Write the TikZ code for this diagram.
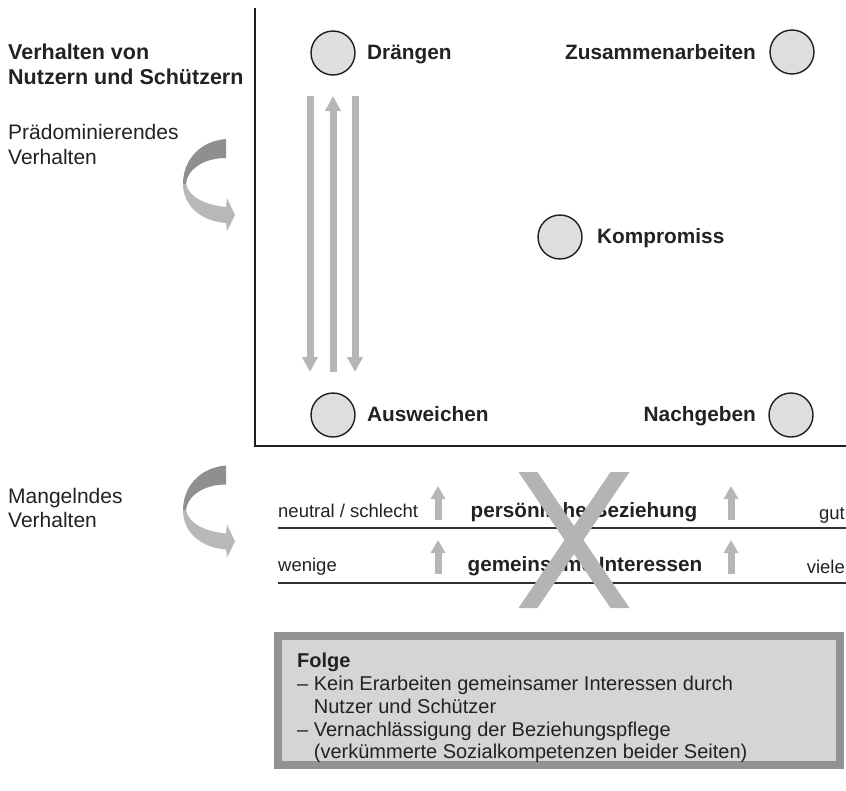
\documentclass[tikz,border=0pt]{standalone}
\usepackage{fontspec}
\setmainfont{Liberation Sans}
\usetikzlibrary{arrows.meta}

\definecolor{axisink}{HTML}{1E1E1E}
\definecolor{dotfill}{HTML}{DEDEE0}
\definecolor{arrowgray}{HTML}{B6B6B9}
\definecolor{benddark}{HTML}{8F8F92}
\definecolor{bendlight}{HTML}{B8B8BB}
\definecolor{boxfill}{HTML}{D5D5D7}
\definecolor{boxedge}{HTML}{929295}
\definecolor{ruleink}{HTML}{303030}
\definecolor{crossgray}{HTML}{B4B4B7}
\definecolor{textink}{HTML}{222222}

\tikzset{
  axisline/.style={draw=axisink, line width=1.8pt},
  rowrule/.style={draw=ruleink, line width=2pt},
  dot/.style={circle, draw=axisink, line width=1.4pt, fill=dotfill,
              minimum size=44pt, inner sep=0pt},
  modelabel/.style={font=\fontsize{20.8}{24}\selectfont\bfseries,
                    text=textink, inner sep=0pt},
  headlabel/.style={font=\fontsize{21.5}{25}\selectfont\bfseries,
                    text=textink, inner sep=0pt, anchor=base west},
  sidelabel/.style={font=\fontsize{21}{24}\selectfont,
                    text=textink, inner sep=0pt, anchor=base west},
  scalelabel/.style={font=\fontsize{18.5}{22}\selectfont,
                     text=textink, inner sep=0pt},
  factorlabel/.style={font=\fontsize{20.7}{24}\selectfont\bfseries,
                      text=textink, inner sep=0pt, anchor=base},
  boxline/.style={font=\fontsize{20}{23}\selectfont,
                  text=textink, inner sep=0pt, anchor=base west},
  longarrow/.style={draw=arrowgray, line width=7pt,
                    -{Triangle[width=15pt,length=15pt]}},
  shortarrow/.style={draw=arrowgray, line width=7pt,
                     -{Triangle[width=14pt,length=13pt]}},
}

\begin{document}
\begin{tikzpicture}[x=1pt,y=-1pt]
\useasboundingbox (0,0) rectangle (846,790);

% ---- axes of the behaviour chart
\coordinate (axistop)   at (255,8);
\coordinate (origin)    at (255,446);
\coordinate (axisright) at (846,446);
\draw[axisline] (axistop) -- (origin) -- (axisright);

% ---- left-hand headings
\node[headlabel] (head1) at (8,59)  {Verhalten von};
\node[headlabel] (head2) at (8,84)  {Nutzern und Schützern};
\node[sidelabel] (pre1)  at (8,139) {Prädominierendes};
\node[sidelabel] (pre2)  at (8,164) {Verhalten};
\node[sidelabel] (lack1) at (8,503) {Mangelndes};
\node[sidelabel] (lack2) at (8,527) {Verhalten};

% ---- curved turn arrows (dark upper half, light lower half)
\foreach \dy/\nm in {0/bendtop, 326.5/bendlow}{
  \begin{scope}[yshift=-\dy pt]
    \fill[benddark] (226,139) .. controls (200,141) and (183,160) .. (183,184)
      -- (186,184) .. controls (187,170) and (203,158) .. (226,158) -- cycle;
    \fill[bendlight] (183,184) .. controls (183,205) and (200,221) .. (226,223)
      -- (227,231) -- (235,215) -- (227,198) -- (226,207)
      .. controls (205,205) and (189,197) .. (186,184) -- cycle;
    \coordinate (\nm) at (210,185);
  \end{scope}
}

% ---- strategy points
\node[dot] (draengen) at (333,53)  {};
\node[dot] (zusammen) at (792,52)  {};
\node[dot] (kompro)   at (560,237) {};
\node[dot] (ausweich) at (333,415) {};
\node[dot] (nachgeb)  at (791,415) {};

\node[modelabel, anchor=base west] (draengen-t) at (367,59)  {Drängen};
\node[modelabel, anchor=base east] (zusammen-t) at (756,59)  {Zusammenarbeiten};
\node[modelabel, anchor=base west] (kompro-t)   at (597,243) {Kompromiss};
\node[modelabel, anchor=base west] (ausweich-t) at (367,421) {Ausweichen};
\node[modelabel, anchor=base east] (nachgeb-t)  at (756,421) {Nachgeben};

% ---- oscillation between pushing and avoiding
\coordinate (v1a) at (310,96);  \coordinate (v1b) at (310,372);
\coordinate (v2a) at (333,372); \coordinate (v2b) at (333,96);
\coordinate (v3a) at (355,96);  \coordinate (v3b) at (355,372);
\draw[longarrow] (v1a) -- (v1b);
\draw[longarrow] (v2a) -- (v2b);
\draw[longarrow] (v3a) -- (v3b);

% ---- scales: relationship and common interests
\coordinate (rule1l) at (278,528); \coordinate (rule1r) at (846,528);
\coordinate (rule2l) at (278,583); \coordinate (rule2r) at (846,583);
\draw[rowrule] (rule1l) -- (rule1r);
\draw[rowrule] (rule2l) -- (rule2r);

\node[scalelabel, anchor=base west] (neutral) at (278,517) {neutral / schlecht};
\node[scalelabel, anchor=base east] (gut)     at (845,519) {gut};
\node[scalelabel, anchor=base west] (wenige)  at (278,571) {wenige};
\node[scalelabel, anchor=base east] (viele)   at (845,573) {viele};

\node[factorlabel] (bezieh)    at (584,517) {persönliche Beziehung};
\node[factorlabel] (interesse) at (585,571) {gemeinsame Interessen};

\coordinate (u1a) at (438,520); \coordinate (u1b) at (438,486);
\coordinate (u2a) at (731,520); \coordinate (u2b) at (731,486);
\coordinate (u3a) at (438,574); \coordinate (u3b) at (438,540);
\coordinate (u4a) at (731,574); \coordinate (u4b) at (731,540);
\draw[shortarrow] (u1a) -- (u1b);
\draw[shortarrow] (u2a) -- (u2b);
\draw[shortarrow] (u3a) -- (u3b);
\draw[shortarrow] (u4a) -- (u4b);

% ---- crossing-out mark over both scales (flat top and bottom cuts)
\fill[crossgray] (518.5,472) -- (537.5,472) -- (629.5,608) -- (610.5,608) -- cycle;
\fill[crossgray] (610.5,472) -- (629.5,472) -- (537.5,608) -- (518.5,608) -- cycle;

% ---- consequence box
\fill[boxedge] (274,632) rectangle (844,769);
\fill[boxfill] (282,640) rectangle (836,761);
\node[boxline, font=\fontsize{20}{23}\selectfont\bfseries] (folge) at (297,667) {Folge};
\node[boxline] (folge1) at (297,690) {– Kein Erarbeiten gemeinsamer Interessen durch};
\node[boxline] (folge2) at (297,713) {\phantom{– }Nutzer und Schützer};
\node[boxline] (folge3) at (297,736) {– Vernachlässigung der Beziehungspflege};
\node[boxline] (folge4) at (297,758) {\phantom{– }(verkümmerte Sozialkompetenzen beider Seiten)};

\end{tikzpicture}
\end{document}
